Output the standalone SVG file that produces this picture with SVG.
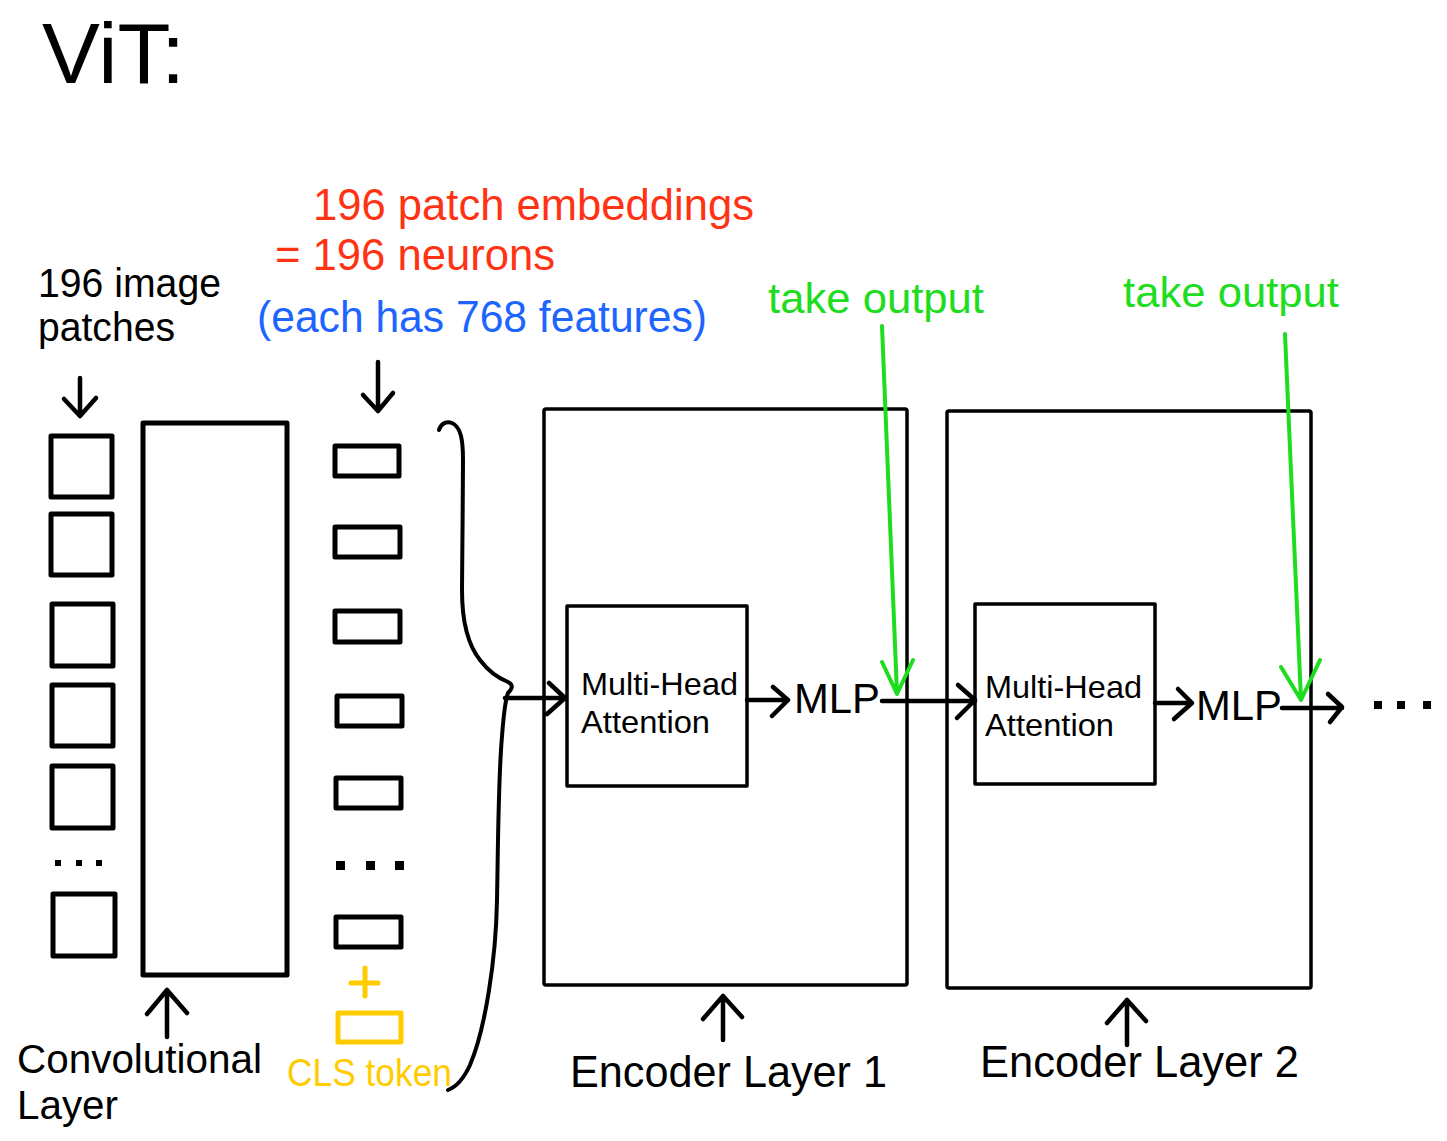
<svg xmlns="http://www.w3.org/2000/svg" width="1447" height="1141" viewBox="0 0 1447 1141">
<style>
text{font-family:"Liberation Sans",Arial,sans-serif}
.k{fill:#000}
.red{fill:#ff3314}
.blue{fill:#1e64ff}
.grn{fill:#1edc1e}
.yel{fill:#ffcc00}
.box{fill:none;stroke:#000;stroke-width:5;stroke-linejoin:round}
.thin{fill:none;stroke:#000;stroke-width:3.5;stroke-linejoin:round}
.ln{fill:none;stroke:#000;stroke-width:4.5;stroke-linecap:round;stroke-linejoin:round}
.br{fill:none;stroke:#000;stroke-width:4;stroke-linecap:round;stroke-linejoin:round}
.gl{fill:none;stroke:#1edc1e;stroke-width:4;stroke-linecap:round;stroke-linejoin:round}
.yl{fill:none;stroke:#ffcc00;stroke-width:5;stroke-linecap:round;stroke-linejoin:round}
</style>
<rect width="1447" height="1141" fill="#fff"/>

<g id="title">
<text x="42" y="83" font-size="86" class="k" textLength="143" lengthAdjust="spacingAndGlyphs">ViT:</text>
</g>

<g id="labels">
<text x="313" y="220" font-size="44" class="red" textLength="441" lengthAdjust="spacingAndGlyphs">196 patch embeddings</text>
<text x="275" y="270" font-size="44" class="red" textLength="280" lengthAdjust="spacingAndGlyphs">= 196 neurons</text>
<text x="257" y="332" font-size="44" class="blue" textLength="450" lengthAdjust="spacingAndGlyphs">(each has 768 features)</text>
<text x="38" y="297" font-size="40" class="k" textLength="183" lengthAdjust="spacingAndGlyphs">196 image</text>
<text x="38" y="341" font-size="40" class="k" textLength="137" lengthAdjust="spacingAndGlyphs">patches</text>
<text x="768" y="313" font-size="42" class="grn" textLength="216" lengthAdjust="spacingAndGlyphs">take output</text>
<text x="1123" y="307" font-size="42" class="grn" textLength="216" lengthAdjust="spacingAndGlyphs">take output</text>
<text x="17" y="1073" font-size="40" class="k" textLength="245" lengthAdjust="spacingAndGlyphs">Convolutional</text>
<text x="17" y="1119" font-size="40" class="k" textLength="101" lengthAdjust="spacingAndGlyphs">Layer</text>
<text x="287" y="1086" font-size="38" class="yel" textLength="165" lengthAdjust="spacingAndGlyphs">CLS token</text>
<text x="570" y="1087" font-size="45" class="k" textLength="317" lengthAdjust="spacingAndGlyphs">Encoder Layer 1</text>
<text x="980" y="1077" font-size="45" class="k" textLength="319" lengthAdjust="spacingAndGlyphs">Encoder Layer 2</text>
</g>

<g id="patches">
<rect x="51" y="436" width="61" height="61" class="box"/>
<rect x="51" y="514" width="61" height="61" class="box"/>
<rect x="52" y="604" width="61" height="62" class="box"/>
<rect x="52" y="685" width="61" height="61" class="box"/>
<rect x="52" y="766" width="61" height="62" class="box"/>
<rect x="55" y="860" width="6" height="6" class="k"/>
<rect x="76" y="860" width="6" height="6" class="k"/>
<rect x="96" y="860" width="6" height="6" class="k"/>
<rect x="53" y="894" width="62" height="62" class="box"/>
</g>

<g id="conv">
<rect x="143" y="423" width="144" height="552" class="box"/>
</g>

<g id="embeddings">
<rect x="335" y="446" width="64" height="30" class="box"/>
<rect x="335" y="527" width="65" height="30" class="box"/>
<rect x="335" y="611" width="65" height="31" class="box"/>
<rect x="337" y="696" width="65" height="30" class="box"/>
<rect x="336" y="778" width="65" height="30" class="box"/>
<rect x="336" y="861" width="9" height="9" class="k"/>
<rect x="366" y="861" width="9" height="9" class="k"/>
<rect x="395" y="861" width="9" height="9" class="k"/>
<rect x="336" y="917" width="65" height="30" class="box"/>
</g>

<g id="cls">
<path d="M351 983 H378 M365 968 V996" class="yl"/>
<rect x="338" y="1013" width="63" height="29" class="yl"/>
</g>

<g id="encoder1">
<rect x="544" y="409" width="363" height="576" rx="2" class="thin"/>
<rect x="567" y="606" width="180" height="180" class="thin"/>
<text x="581" y="695" font-size="32" class="k" textLength="157" lengthAdjust="spacingAndGlyphs">Multi-Head</text>
<text x="581" y="733" font-size="32" class="k" textLength="129" lengthAdjust="spacingAndGlyphs">Attention</text>
<text x="794" y="713" font-size="43" class="k" textLength="86" lengthAdjust="spacingAndGlyphs">MLP</text>
</g>

<g id="encoder2">
<rect x="947" y="411" width="364" height="577" rx="2" class="thin"/>
<rect x="975" y="604" width="180" height="180" class="thin"/>
<text x="985" y="698" font-size="32" class="k" textLength="157" lengthAdjust="spacingAndGlyphs">Multi-Head</text>
<text x="985" y="736" font-size="32" class="k" textLength="129" lengthAdjust="spacingAndGlyphs">Attention</text>
<text x="1196" y="720" font-size="43" class="k" textLength="86" lengthAdjust="spacingAndGlyphs">MLP</text>
</g>

<g id="ellipsis">
<rect x="1374" y="701" width="8" height="8" class="k"/>
<rect x="1397" y="701" width="8" height="8" class="k"/>
<rect x="1423" y="701" width="8" height="8" class="k"/>
</g>

<g id="connectors">
<!-- down arrows -->
<path d="M80 378 V416 M64 399 L80 416 L96 398" class="ln"/>
<path d="M378 362 V411 M363 395 L378 411 L393 393" class="ln"/>
<!-- up arrows -->
<path d="M167 1037 V990 M147 1014 L167 990 L187 1013" class="ln"/>
<path d="M723 1040 V996 M703 1019 L723 996 L742 1017" class="ln"/>
<path d="M1127 1045 V1000 M1107 1023 L1127 1000 L1146 1021" class="ln"/>
<!-- brace -->
<path d="M439 430 C441 423 447 421 452 423 C461 427 463 440 463 460 C463 500 462 560 462 590 C462 620 468 645 480 660 C489 672 498 678 508 682 C514 685 512 689 508 693 C505 700 503 720 501 750 C498 800 498 850 497 900 C496 960 485 1030 470 1065 C464 1078 456 1087 448 1090" class="br"/>
<!-- brace to MHA1 -->
<path d="M505 698 H565 M549 683 L565 698 L547 714" class="ln"/>
<!-- MHA1 to MLP1 -->
<path d="M747 700 H788 M773 687 L788 700 L772 716" class="ln"/>
<!-- MLP1 to MHA2 -->
<path d="M882 701 H975 M958 685 L975 700 L957 718" class="ln"/>
<!-- MHA2 to MLP2 -->
<path d="M1155 703 H1192 M1178 689 L1192 703 L1174 719" class="ln"/>
<!-- MLP2 onward -->
<path d="M1282 708 H1342 M1328 694 L1342 707 L1330 722" class="ln"/>
<!-- green take-output arrows -->
<path d="M882 326 L897 694 M882 662 L897 694 L913 660" class="gl"/>
<path d="M1285 334 L1301 700 M1281 667 L1301 700 L1320 660" class="gl"/>
</g>
</svg>
